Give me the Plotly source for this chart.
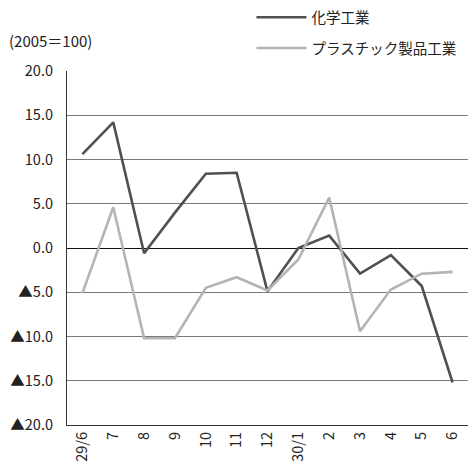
import plotly.graph_objects as go

categories = ["29/6", "7", "8", "9", "10", "11", "12", "30/1", "2", "3", "4", "5", "6"]
chemical = [10.6, 14.2, -0.6, 4.0, 8.4, 8.5, -4.9, 0.0, 1.4, -2.9, -0.8, -4.3, -15.2]
plastic = [-5.1, 4.6, -10.2, -10.2, -4.5, -3.3, -4.8, -1.3, 5.7, -9.4, -4.7, -2.9, -2.7]
series_names = ["化学工業", "プラスチック製品工業"]
y_tickvals = [20, 15, 10, 5, 0, -5, -10, -15, -20]
y_ticktext = ["20.0", "15.0", "10.0", "5.0", "0.0", "▲5.0", "▲10.0", "▲15.0", "▲20.0"]
unit_label = "(2005＝100)"

FONT = "Noto Sans CJK JP, Noto Sans, sans-serif"

fig = go.Figure()
fig.add_trace(go.Scatter(x=categories, y=chemical, mode="lines", name=series_names[0],
                         line=dict(color="#505050", width=2.6), legendgroup="a"))
fig.add_trace(go.Scatter(x=categories, y=plastic, mode="lines", name=series_names[1],
                         line=dict(color="#b4b4b4", width=2.6), legendgroup="b"))

fig.update_layout(
    width=468, height=467,
    margin=dict(l=67, r=0, t=71, b=42),
    paper_bgcolor="white", plot_bgcolor="white",
    font=dict(family=FONT, size=14, color="#222"),
    legend=dict(x=0.46, y=1.197, xanchor="left", yanchor="top",
                traceorder="grouped", tracegroupgap=9,
                font=dict(size=14.5, color="#222"), bgcolor="rgba(0,0,0,0)",
                itemwidth=50),
    xaxis=dict(type="category", range=[-0.5, 12.5], tickangle=-90,
               showgrid=False, showline=True, linecolor="#333", linewidth=1.2,
               ticks="", tickfont=dict(size=14.5, color="#222")),
    yaxis=dict(range=[-20, 20], tickvals=y_tickvals, ticktext=y_ticktext,
               showgrid=True, gridcolor="#7a7a7a", gridwidth=1.2,
               zeroline=True, zerolinecolor="#111", zerolinewidth=1.2,
               showline=True, linecolor="#333", linewidth=1.2,
               ticks="", ticklabelstandoff=10, tickfont=dict(size=14.5, color="#222")),
    annotations=[dict(text=unit_label, xref="paper", yref="paper", x=-0.15, y=1.05,
                      xanchor="left", yanchor="bottom", showarrow=False,
                      font=dict(size=15, color="#222"))],
)

fig.write_html("out.html", config={"displayModeBar": False},
               post_script="document.body.style.margin='0';")
